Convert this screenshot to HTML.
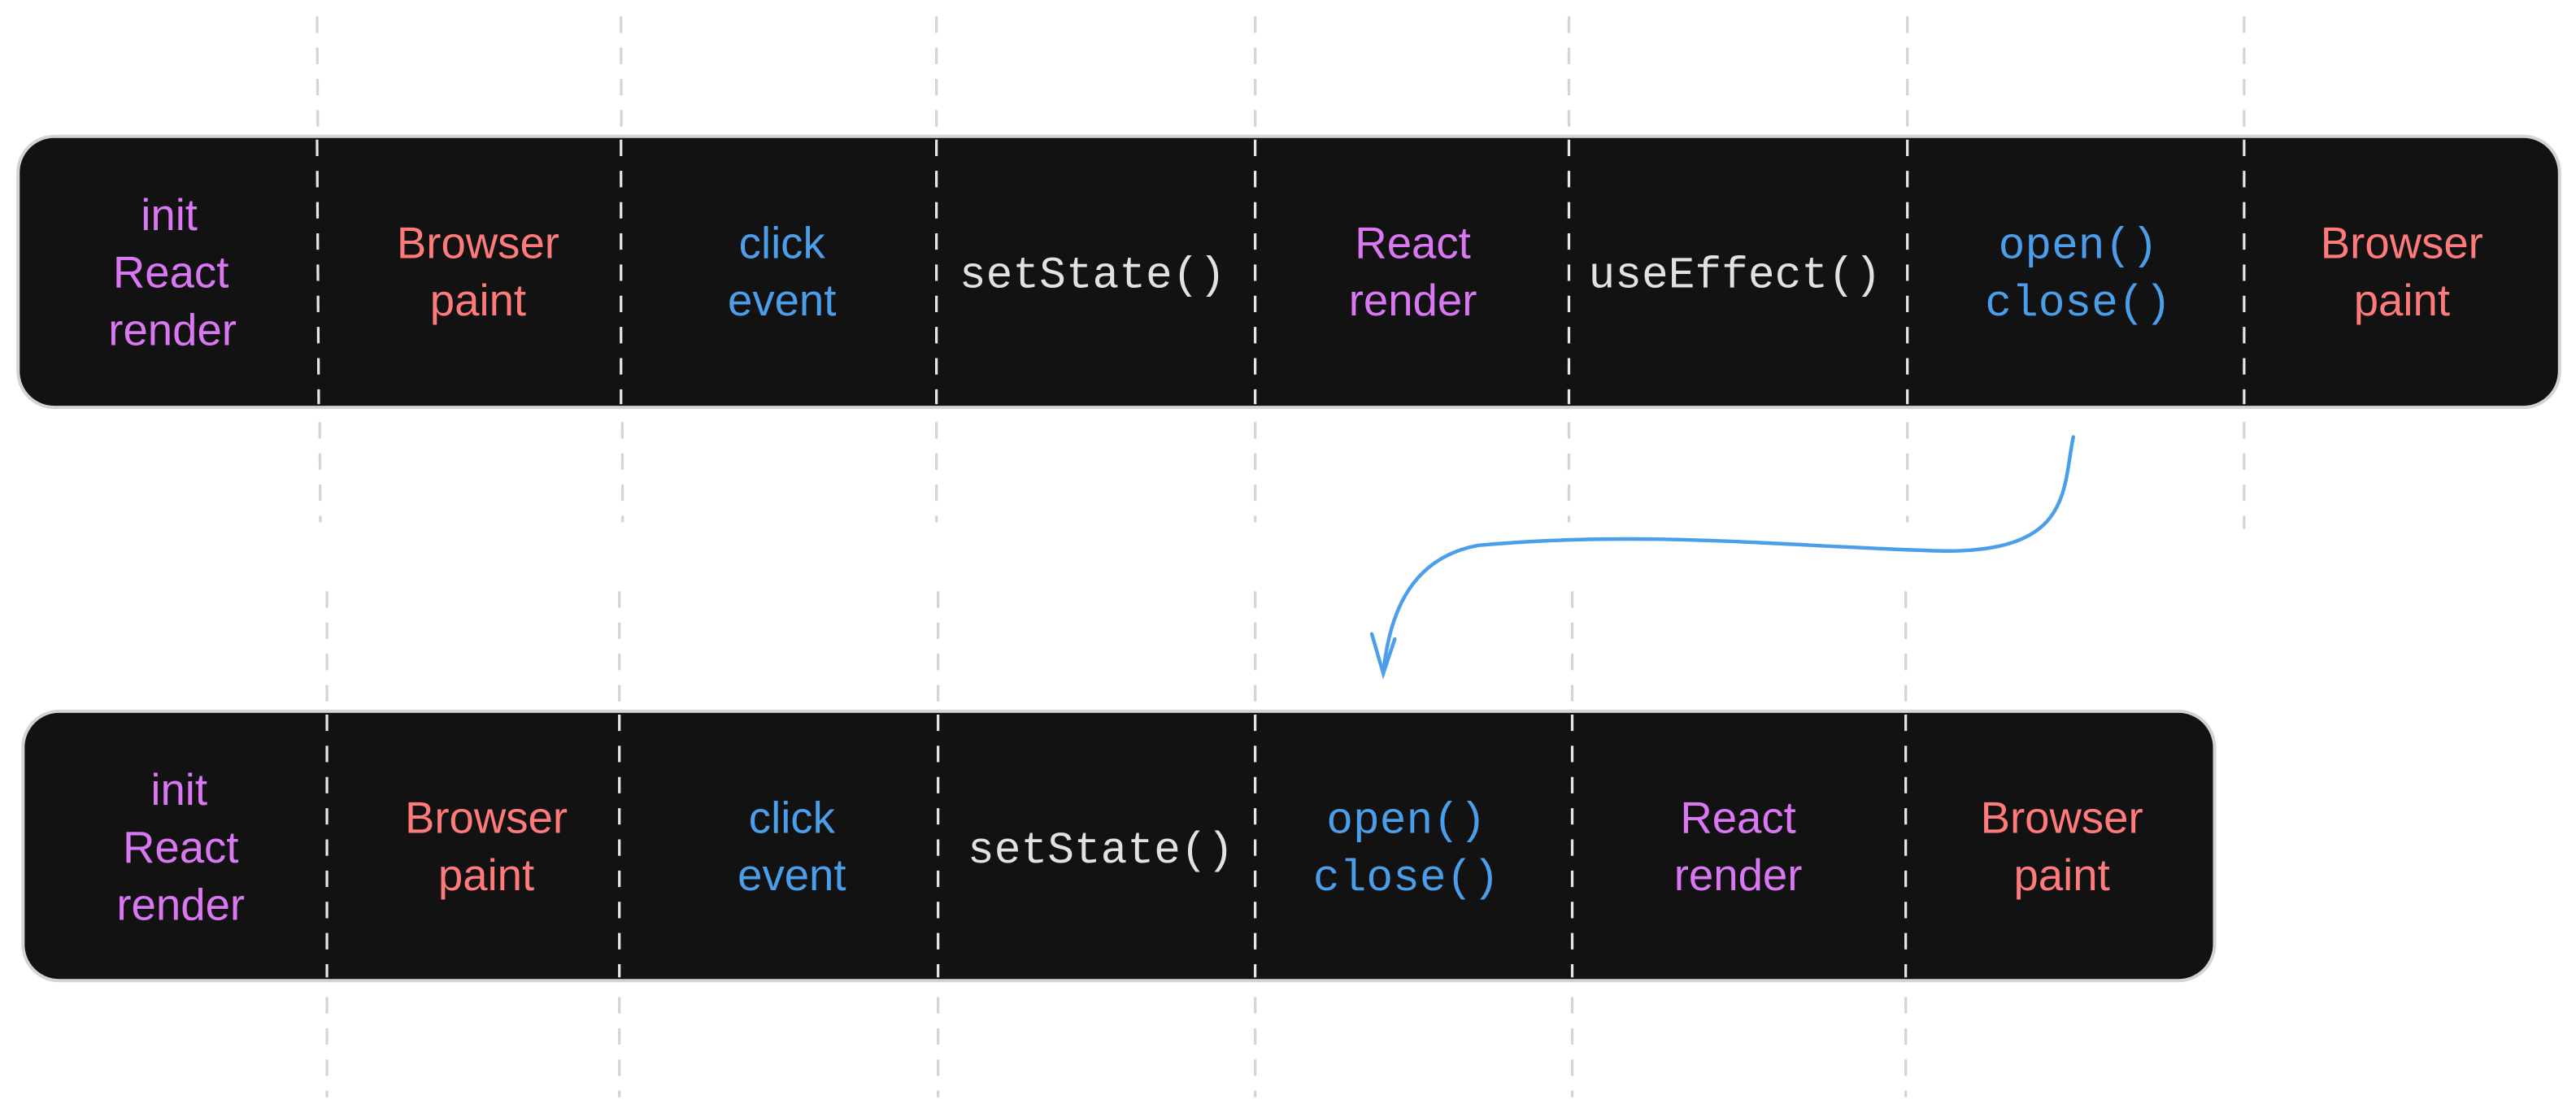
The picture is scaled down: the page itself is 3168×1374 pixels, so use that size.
<!DOCTYPE html>
<html><head><meta charset="utf-8"><style>
html,body{margin:0;padding:0;background:#fff;}
svg{display:block}
.h{font-family:"Liberation Sans",sans-serif;font-size:27px;text-anchor:middle}
.m{font-family:"Liberation Mono",monospace;font-size:27px;text-anchor:middle;font-weight:normal}
.p{fill:#da77f2}.r{fill:#ff7a7a}.b{fill:#4a9eea}.g{fill:#e2e2e2}
</style></head><body>
<svg width="3168" height="1374" viewBox="0 0 1568 680" xmlns="http://www.w3.org/2000/svg">
<g stroke="#d4d4d4" stroke-width="1.6" stroke-dasharray="10 9" fill="none">
<line x1="193" y1="10" x2="195" y2="318"/><line x1="378" y1="10" x2="379" y2="318"/>
<line x1="570" y1="10" x2="570" y2="318"/><line x1="764" y1="10" x2="764" y2="318"/>
<line x1="955" y1="10" x2="955" y2="318"/><line x1="1161" y1="10" x2="1161" y2="318"/>
<line x1="1366" y1="10" x2="1366" y2="322"/>
<line x1="199" y1="360" x2="199" y2="668"/><line x1="377" y1="360" x2="377" y2="668"/>
<line x1="571" y1="360" x2="571" y2="668"/><line x1="764" y1="360" x2="764" y2="668"/>
<line x1="957" y1="360" x2="957" y2="668"/><line x1="1160" y1="360" x2="1160" y2="668"/>
</g>
<rect x="11" y="83" width="1547" height="165" rx="22" fill="#121212" stroke="#d4d4d4" stroke-width="2"/>
<rect x="14" y="433" width="1334" height="164" rx="22" fill="#121212" stroke="#d4d4d4" stroke-width="2"/>
<g stroke="#e6e6e6" stroke-width="1.6" stroke-dasharray="10 9">
<line x1="193" y1="85" x2="194" y2="246"/><line x1="378" y1="85" x2="378" y2="246"/>
<line x1="570" y1="85" x2="570" y2="246"/><line x1="764" y1="85" x2="764" y2="246"/>
<line x1="955" y1="85" x2="955" y2="246"/><line x1="1161" y1="85" x2="1161" y2="246"/>
<line x1="1366" y1="85" x2="1366" y2="246"/>
<line x1="199" y1="435" x2="199" y2="595"/><line x1="377" y1="435" x2="377" y2="595"/>
<line x1="571" y1="435" x2="571" y2="595"/><line x1="764" y1="435" x2="764" y2="595"/>
<line x1="957" y1="435" x2="957" y2="595"/><line x1="1160" y1="435" x2="1160" y2="595"/>
</g>
<text class="h p" x="103" y="140">init</text><text class="h p" x="104" y="175">React</text><text class="h p" x="105" y="210">render</text>
<text class="h r" x="291" y="157">Browser</text><text class="h r" x="291" y="192">paint</text>
<text class="h b" x="476" y="157">click</text><text class="h b" x="476" y="192">event</text>
<text class="m g" x="665" y="175">setState()</text>
<text class="h p" x="860" y="157">React</text><text class="h p" x="860" y="192">render</text>
<text class="m g" x="1056" y="175">useEffect()</text>
<text class="m b" x="1265" y="157">open()</text><text class="m b" x="1265" y="192">close()</text>
<text class="h r" x="1462" y="157">Browser</text><text class="h r" x="1462" y="192">paint</text>
<text class="h p" x="109" y="490">init</text><text class="h p" x="110" y="525">React</text><text class="h p" x="110" y="560">render</text>
<text class="h r" x="296" y="507">Browser</text><text class="h r" x="296" y="542">paint</text>
<text class="h b" x="482" y="507">click</text><text class="h b" x="482" y="542">event</text>
<text class="m g" x="670" y="525">setState()</text>
<text class="m b" x="856" y="507">open()</text><text class="m b" x="856" y="542">close()</text>
<text class="h p" x="1058" y="507">React</text><text class="h p" x="1058" y="542">render</text>
<text class="h r" x="1255" y="507">Browser</text><text class="h r" x="1255" y="542">paint</text>
<g stroke="#4a9eea" stroke-width="2.2" fill="none" stroke-linecap="round">
<path d="M1262 266 C1255 300 1262 340 1170 335 C1080 332 1000 323 900 332 C855 340 845 380 842 410"/>
<path d="M835 386 L842 410 L849 389"/>
</g>
</svg>
</body></html>
